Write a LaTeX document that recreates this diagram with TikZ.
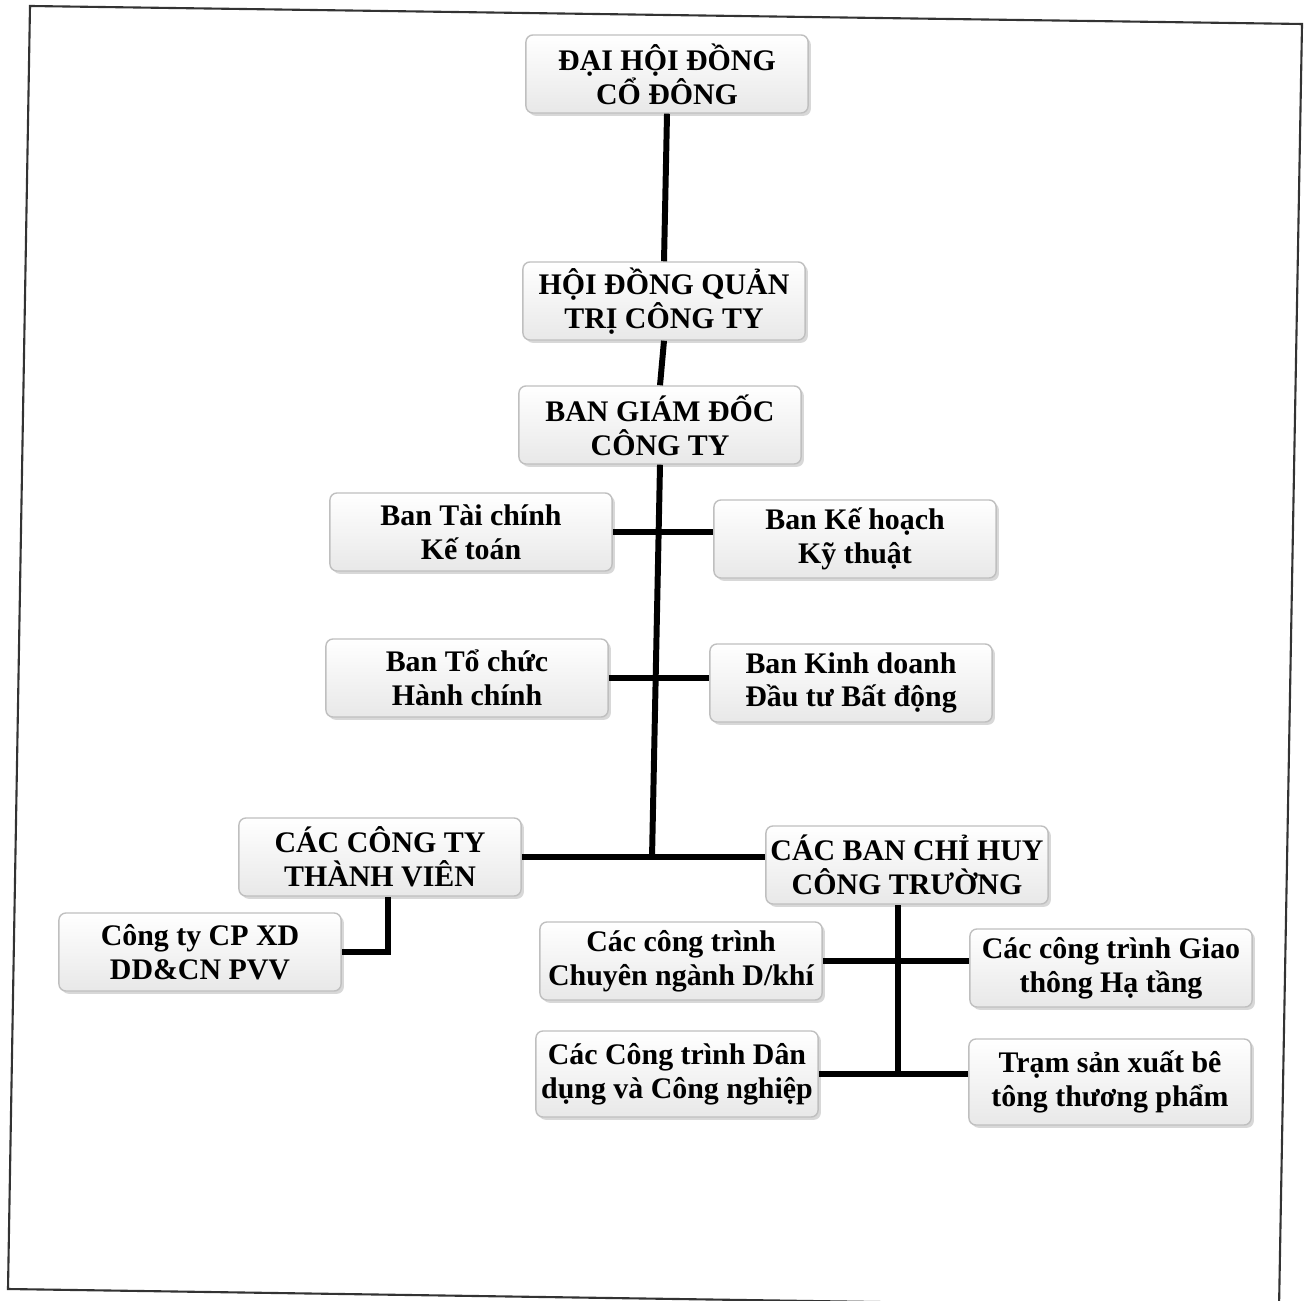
\documentclass[tikz,border=0pt]{standalone}
\usepackage{fontspec}
\setmainfont{Liberation Serif}
\usetikzlibrary{shadows}

\begin{document}
\begin{tikzpicture}[x=0.01cm,y=-0.01cm,
    box/.style={rectangle,draw=gray!50,rounded corners=2pt,top color=white,bottom color=gray!18,
      drop shadow={shadow xshift=0.8pt,shadow yshift=-0.8pt,fill=gray!60},
      minimum width=2.82cm,minimum height=0.78cm,inner sep=1pt,align=center,
      font=\bfseries\fontsize{8.5}{9.6}\selectfont},
    link/.style={line width=1.7pt}]
   \useasboundingbox (0,0) rectangle (1307,1301);
   % page frame
   \draw[line width=0.6pt,gray!40!black] (30,6) -- (1302,24) -- (1279,1308) -- (8,1289) -- cycle;

      \node[box] at (667,74) (dhdc) {ĐẠI HỘI ĐỒNG\\CỔ ĐÔNG};
      \node[box] at (664,301) (hdqt) {HỘI ĐỒNG QUẢN\\TRỊ CÔNG TY};
      \node[box] at (660,425) (bgd) {BAN GIÁM ĐỐC\\CÔNG TY};
      \node[box] at (471,532) (tckt) {Ban Tài chính\\Kế toán};
      \node[box] at (855,539) (khkt) {Ban Kế hoạch\\Kỹ thuật};
      \node[box] at (467,678) (tchc) {Ban Tổ chức\\Hành chính};
      \node[box] at (851,683) (kdbds) {Ban Kinh doanh\\Đầu tư Bất động};
      \node[box] at (380,857) (ctty) {CÁC CÔNG TY\\THÀNH VIÊN};
      \node[box] at (907,865) (bch) {CÁC BAN CHỈ HUY\\CÔNG TRƯỜNG};
      \node[box] at (200,952) (pvv) {Công ty CP XD\\DD\&CN PVV};
      \node[box] at (681,961) (dk) {Các công trình\\Chuyên ngành D/khí};
      \node[box] at (1111,968) (gt) {Các công trình Giao\\thông Hạ tầng};
      \node[box,minimum height=0.86cm] at (677,1074) (dd) {Các Công trình Dân\\dụng và Công nghiệp};
      \node[box,minimum height=0.86cm] at (1110,1082) (bt) {Trạm sản xuất bê\\tông thương phẩm};

      \coordinate (trunk) at (652,858);
      \coordinate (ctfoot) at (388,897);
      \coordinate (bchfoot) at (898,905);
      \draw[link] (dhdc.south) -- (hdqt.north);
      \draw[link] (hdqt.south) -- (bgd.north);
      \draw[link] (bgd.south) -- (trunk);
      \draw[link] (tckt.east) -- (tckt.east -| khkt.west);
      \draw[link] (tchc.east) -- (tchc.east -| kdbds.west);
      \draw[link] (ctty.east) -- (ctty.east -| bch.west);
      \draw[link] (ctfoot) -- (ctfoot |- pvv.east) -- (pvv.east);
      \draw[link] (bchfoot) -- (bchfoot |- dd.east);
      \draw[link] (dk.east) -- (dk.east -| gt.west);
      \draw[link] (dd.east) -- (dd.east -| bt.west);
   \end{tikzpicture}
\end{document}
